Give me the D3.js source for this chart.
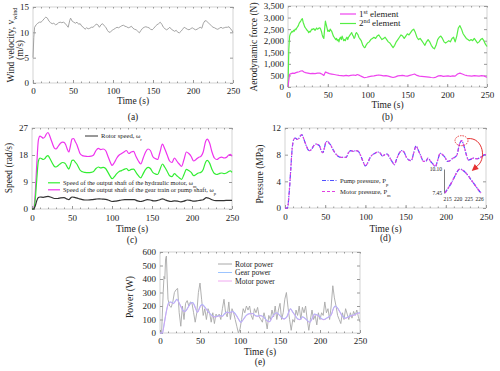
<!DOCTYPE html>
<html lang="en">
<head>
<meta charset="UTF-8">
<title>Wind turbine responses</title>
<script src="https://d3js.org/d3.v7.min.js"></script>
<style>
  body { margin: 0; background: #fff; }
  svg { display: block; font-family: 'Liberation Serif', 'Times New Roman', serif; }
  .tick text { fill: #222; }
  .tick line { stroke: #999; }
</style>
</head>
<body>
<svg id="chart" width="500" height="371"></svg>
<script>
// ---- data ----
const timeTicks = [0, 50, 100, 150, 200, 250];

const wind = [[0,5],[1,9],[2,11],[4,11.5],[6,11.8],[8,12],[10,12],[12,12.3],[14,12.7],[16,13],[18,12.8],[20,12.2],[22,11.9],[24,11.7],[26,11.8],[28,11.5],[30,11.6],[32,11.9],[34,12],[36,11.9],[38,12],[40,11.8],[42,11.4],[44,11],[46,12.4],[47,12.8],[49,12.2],[51,12],[53,11.8],[55,12],[57,11.6],[59,11.7],[61,11.2],[63,11],[65,10.6],[67,10.9],[69,10.7],[71,10.8],[73,11],[75,11],[77,11.3],[79,11.6],[81,11.5],[83,11],[85,11.5],[87,11.7],[89,11.3],[91,11],[93,10.4],[95,10],[97,10.1],[99,10.4],[101,10.6],[103,10.8],[105,11],[107,10.9],[109,11.1],[111,11.3],[113,11.4],[115,11.2],[117,11.1],[119,10.9],[121,11],[123,11.2],[125,10.8],[127,10.6],[129,10.5],[131,10.2],[133,9.9],[135,10.4],[137,10.8],[139,11],[141,11.1],[143,11],[145,10.9],[147,10.6],[149,10.5],[151,10.8],[153,11.2],[155,11.5],[157,11.7],[159,12],[161,11.6],[163,11],[165,10.7],[167,10.5],[169,10.7],[171,11],[173,10.6],[175,10.4],[177,10.2],[179,10.4],[181,10],[183,9.9],[185,10.2],[187,10.6],[189,11],[191,10.8],[193,10.6],[195,10.5],[197,10.7],[199,10.9],[201,10.7],[203,10.5],[205,10.6],[207,10.8],[209,11],[211,10.8],[213,11.8],[215,12.3],[217,12.2],[219,11.9],[221,11.6],[223,11.3],[225,11],[227,10.9],[229,10.7],[231,10.6],[233,10.8],[235,11],[237,10.8],[239,10.9],[241,11],[243,11],[245,11.1],[247,10.7],[249,10.3],[250,10]];

const force1 = [[0,0],[1,300],[2,550],[4,580],[6,600],[8,590],[10,620],[12,640],[14,660],[16,690],[18,700],[20,650],[22,620],[25,600],[28,580],[31,590],[34,580],[37,600],[40,600],[43,550],[45,500],[47,650],[49,620],[52,580],[55,560],[58,540],[61,520],[64,500],[67,490],[70,480],[73,500],[76,480],[79,500],[82,520],[85,500],[87,540],[90,500],[93,450],[96,400],[99,420],[102,450],[105,470],[108,480],[111,500],[114,520],[117,500],[120,480],[123,490],[126,470],[129,440],[132,410],[135,440],[138,480],[141,490],[144,500],[147,480],[150,470],[153,500],[156,530],[159,560],[162,500],[165,470],[168,460],[171,450],[174,440],[177,430],[180,410],[183,400],[186,430],[189,480],[192,490],[195,460],[198,470],[201,480],[204,460],[207,480],[210,470],[213,560],[216,600],[219,560],[222,520],[225,490],[228,480],[231,470],[234,490],[237,480],[240,470],[243,490],[246,480],[249,430],[250,420]];

const force2 = [[0,0],[0.5,800],[1,1600],[2,2200],[3,2300],[4,2350],[5,2400],[6,2380],[7,2450],[8,2420],[9,2500],[10,2480],[11,2550],[12,2600],[13,2650],[14,2750],[15,2800],[16,2850],[17,2920],[18,2950],[19,2800],[20,2700],[21,2600],[22,2550],[23,2500],[24,2450],[25,2420],[26,2350],[27,2400],[28,2380],[29,2450],[30,2500],[31,2480],[32,2520],[33,2500],[34,2450],[35,2500],[36,2550],[37,2500],[38,2520],[39,2550],[40,2560],[41,2500],[42,2400],[43,2250],[44,2150],[45,2100],[46,2500],[47,2850],[48,2700],[49,2550],[50,2400],[51,2450],[52,2400],[53,2500],[54,2450],[55,2400],[56,2300],[57,2200],[58,2150],[59,2100],[60,2050],[61,2100],[62,2000],[63,2050],[64,1950],[65,2100],[66,2150],[67,2050],[68,2200],[69,2100],[70,2000],[71,2050],[72,2000],[73,2100],[74,2150],[75,2050],[76,2150],[77,2200],[78,2250],[79,2300],[80,2350],[81,2250],[82,2200],[83,2100],[84,2150],[85,2300],[86,2350],[87,2300],[88,2250],[89,2150],[90,2100],[91,2050],[92,2000],[93,1900],[94,1800],[95,1750],[96,1700],[97,1720],[98,1800],[99,1850],[100,1900],[102,1950],[104,2050],[106,2100],[108,2150],[110,2100],[112,2200],[114,2250],[116,2150],[118,2050],[120,2100],[122,2150],[124,2050],[126,1950],[128,1900],[130,1800],[132,1700],[134,1800],[136,1950],[138,2050],[140,2150],[142,2250],[144,2200],[146,2100],[148,2200],[150,2300],[152,2250],[154,2350],[156,2450],[158,2500],[160,2350],[162,2150],[164,2050],[166,2100],[168,2000],[170,1900],[172,1800],[174,1950],[176,2050],[178,1950],[180,1800],[182,1700],[184,1650],[186,1800],[188,2050],[190,2150],[192,2200],[194,2100],[196,1950],[198,1900],[200,1950],[202,2000],[204,1950],[206,2100],[208,2150],[210,1950],[212,2200],[214,2550],[216,2650],[218,2500],[220,2300],[222,2200],[224,2100],[226,2050],[228,2000],[230,2050],[232,2000],[234,2100],[236,2000],[238,1900],[240,1950],[242,2050],[244,2100],[246,2000],[248,1850],[250,1750]];

const rotorSpeed = [[0,0],[2,0],[4,1],[6,2.8],[8,3.8],[10,4],[14,3.9],[18,4.1],[20,4.2],[24,3.9],[28,3.5],[32,3.5],[36,3.7],[40,3.8],[44,3.3],[46,3.1],[48,3.6],[50,4],[54,3.8],[58,3.5],[62,3.2],[66,3],[70,3],[75,3.1],[80,3.3],[84,3.4],[88,3.3],[92,3.2],[96,2.9],[100,2.5],[104,2.6],[108,2.8],[112,3],[116,3.1],[120,3.1],[124,3.1],[128,3.1],[132,2.7],[136,2.5],[140,2.8],[144,3.1],[148,3],[152,2.7],[156,2.8],[160,3.1],[163,3.4],[166,3.1],[170,2.7],[174,2.5],[178,2.7],[182,2.6],[186,2.4],[190,2.6],[194,3],[198,2.9],[202,2.6],[206,2.7],[210,2.9],[214,3.1],[218,3.8],[221,3.6],[225,3.1],[230,2.8],[235,2.8],[240,2.8],[245,2.9],[250,2.9]];

const motorSpeed = [[0,0],[2,0],[4,3],[6,10],[8,16],[10,17],[12,16.8],[14,16.5],[16,16.8],[18,17.5],[20,17.8],[22,17],[24,16],[26,15],[28,14.2],[30,14],[32,14.3],[34,14.8],[36,15.2],[38,15.5],[40,15.4],[42,15],[44,14],[46,13.3],[48,14.6],[50,16.2],[52,16.3],[54,15.6],[56,15],[58,14],[60,13],[63,12.4],[66,12.2],[70,12.1],[74,12.2],[77,12.5],[80,13.5],[83,14],[86,13.7],[89,13.9],[92,13.5],[95,12.2],[98,10.8],[100,10.1],[103,10.8],[106,11.8],[109,12.5],[112,12.8],[115,13.2],[118,13.5],[121,12.8],[124,13.2],[127,13.3],[130,12.2],[133,11.1],[136,10.4],[139,11.8],[142,13.2],[145,13.9],[148,13.5],[151,12.2],[154,11.7],[157,11.5],[160,13.2],[163,15],[166,13.9],[169,12.5],[172,11.1],[175,10.8],[178,11.8],[181,11.1],[184,10.4],[187,9.9],[190,11.5],[193,13.2],[196,12.8],[199,12.2],[202,11.1],[205,11.5],[208,12],[211,12.2],[214,13.2],[217,15.6],[219,16.2],[222,15.3],[225,13.2],[228,11.8],[231,11.5],[234,11.8],[237,12],[240,11.8],[243,12],[246,12.5],[248,12.7],[250,12.2]];

const pumpSpeed = [[0,0],[2,0],[4,5],[6,15],[8,23],[10,24.3],[12,24],[14,23.6],[16,24],[18,25],[20,25.5],[22,24.5],[24,23],[26,21.5],[28,20.3],[30,20],[32,20.6],[34,21.4],[36,22],[38,22.3],[40,22.2],[42,21.5],[44,20],[46,19],[48,21],[50,23.3],[52,23.5],[54,22.5],[56,21.5],[58,20],[60,18.5],[63,17.8],[66,17.6],[70,17.5],[74,17.6],[77,18],[80,19.5],[83,20.2],[86,19.8],[89,20],[92,19.5],[95,17.5],[98,15.5],[100,14.5],[103,15.5],[106,17],[109,18],[112,18.5],[115,19],[118,19.5],[121,18.5],[124,19],[127,19.2],[130,17.5],[133,16],[136,15],[139,17],[142,19],[145,20],[148,19.5],[151,17.5],[154,16.8],[157,16.5],[160,19],[163,21.6],[166,20],[169,18],[172,16],[175,15.5],[178,17],[181,16],[184,15],[187,14.2],[190,16.5],[193,19],[196,18.5],[199,17.5],[202,16],[205,16.5],[208,17.2],[211,17.5],[214,19],[217,22.5],[219,23.3],[222,22],[225,19],[228,17],[231,16.5],[234,17],[237,17.3],[240,17],[243,17.2],[246,18],[248,18.2],[250,17.6]];

const pressure = [[0,0],[3,0],[5,2],[7,5.5],[9,9],[11,10.3],[13,10.5],[15,10.3],[17,10.4],[19,10.8],[21,11],[23,10.5],[25,9.8],[27,9.2],[29,8.7],[31,8.6],[33,8.8],[35,9.2],[37,9.5],[39,9.6],[41,9.5],[43,9.3],[45,8.6],[47,8.3],[49,9],[51,9.9],[53,10],[55,9.7],[57,9.4],[59,8.9],[61,8.5],[64,8],[67,7.7],[70,7.6],[73,7.6],[76,7.6],[79,8.3],[82,8.6],[85,8.5],[88,8.6],[91,8.5],[94,7.9],[97,7],[100,6.3],[103,6.8],[106,7.6],[109,8],[112,8.2],[115,8.4],[118,8.3],[121,7.8],[124,8],[127,8.1],[130,7.6],[133,7],[136,6.5],[139,7.4],[142,8.2],[145,8.6],[148,8.4],[151,7.6],[154,7.2],[157,7.1],[160,8.2],[163,9.3],[166,8.6],[169,7.8],[172,7],[175,7],[178,7.5],[181,7],[184,6.6],[187,6.2],[190,7.2],[193,8.2],[196,8],[199,7.6],[202,7],[205,7.1],[208,7.4],[211,7.6],[214,8],[217,9.6],[220,10.1],[222,9.5],[224,8.7],[226,7.8],[228,7.2],[231,7.3],[234,7.5],[237,7.4],[240,7.4],[243,7.6],[246,7.8],[248,8],[250,8]];

// zoomed view of the pressure peak
const insetPressure = [[215,7.45],[216,8.0],[217,8.6],[218,9.3],[219,9.95],[219.5,10.1],[220,10.05],[221,9.8],[222,9.4],[223,8.9],[224,8.4],[225,7.9],[226,7.45]];
const insetXLabels = ["215", "220", "225", "226"];
const insetYLabels = [7.45, 10.10];

const rotorPower = [[0,0],[2,0],[4,300],[5,420],[6,400],[7,550],[8,570],[9,400],[10,250],[12,200],[14,190],[16,230],[18,300],[20,320],[22,330],[24,150],[26,50],[28,200],[30,100],[32,220],[34,240],[36,200],[38,230],[40,220],[42,150],[44,80],[46,150],[48,300],[50,370],[52,250],[54,130],[56,180],[58,100],[60,180],[62,150],[64,80],[66,150],[68,70],[70,140],[72,120],[74,140],[76,100],[78,180],[80,250],[82,150],[84,120],[86,230],[88,100],[90,180],[92,150],[94,100],[96,50],[98,0],[100,30],[102,100],[104,180],[106,150],[108,200],[110,170],[112,200],[114,130],[116,100],[118,180],[120,150],[122,190],[124,120],[126,100],[128,80],[130,150],[132,100],[134,30],[136,130],[138,100],[140,170],[142,120],[144,200],[146,100],[148,170],[150,220],[152,100],[154,150],[156,250],[158,300],[160,190],[162,100],[164,20],[166,100],[168,80],[170,170],[172,130],[174,200],[176,100],[178,190],[180,150],[182,200],[184,100],[186,20],[188,100],[190,170],[192,100],[194,130],[196,60],[198,150],[200,100],[202,150],[204,130],[206,230],[208,150],[210,180],[212,100],[214,200],[216,350],[218,260],[220,200],[222,130],[224,100],[226,70],[228,150],[230,100],[232,180],[234,140],[236,100],[238,150],[240,110],[242,160],[244,130],[246,170],[248,120],[250,80]];

const gearPower = [[0,0],[3,0],[5,60],[7,130],[9,190],[11,225],[13,230],[15,225],[17,220],[19,235],[21,250],[23,235],[25,210],[27,185],[29,165],[31,160],[33,170],[35,190],[37,210],[39,225],[41,225],[43,205],[45,175],[47,155],[49,180],[51,205],[53,210],[55,200],[57,185],[60,160],[63,140],[66,125],[69,120],[72,125],[75,130],[78,125],[81,145],[84,155],[87,150],[90,160],[93,150],[96,125],[99,95],[101,80],[104,100],[107,125],[110,140],[113,145],[116,145],[119,130],[122,125],[125,130],[128,125],[131,110],[134,90],[137,85],[140,115],[143,140],[146,150],[149,135],[152,115],[155,105],[158,115],[161,155],[163,180],[166,155],[169,130],[172,105],[175,100],[178,120],[181,110],[184,95],[187,80],[190,105],[193,140],[196,135],[199,125],[202,105],[205,100],[208,110],[211,120],[214,135],[217,185],[219,200],[222,185],[225,155],[228,125],[231,110],[234,115],[237,125],[240,130],[243,135],[246,145],[250,150]];
const motorPower = [[0,0],[3,0],[5,58],[7,128],[9,188],[11,223],[13,228],[15,223],[17,218],[19,233],[21,248],[23,233],[25,208],[27,183],[29,163],[31,158],[33,168],[35,188],[37,208],[39,223],[41,223],[43,203],[45,173],[47,153],[49,178],[51,203],[53,208],[55,198],[57,183],[60,158],[63,138],[66,123],[69,118],[72,123],[75,128],[78,123],[81,143],[84,153],[87,148],[90,158],[93,148],[96,123],[99,93],[101,78],[104,98],[107,123],[110,138],[113,143],[116,143],[119,128],[122,123],[125,128],[128,123],[131,108],[134,88],[137,83],[140,113],[143,138],[146,148],[149,133],[152,113],[155,103],[158,113],[161,153],[163,178],[166,153],[169,128],[172,103],[175,98],[178,118],[181,108],[184,93],[187,78],[190,103],[193,138],[196,133],[199,123],[202,103],[205,98],[208,108],[211,118],[214,133],[217,183],[219,198],[222,183],[225,153],[228,123],[231,108],[234,113],[237,123],[240,128],[243,133],[246,143],[250,148]];

// ---- drawing ----
const svg = d3.select("#chart");
const minorX = d3.range(0, 251, 10);
const TICK_FS = 9;

function plainAxis(s) {
  s.attr("font-family", null).attr("font-size", null);
  s.select(".domain").remove();
}

function panel(o) {
  const x = d3.scaleLinear().domain([0, 250]).range([o.left, o.right]);
  const y = d3.scaleLinear().domain([0, o.ymax]).range([o.bottom, o.top]);
  const g = svg.append("g");

  g.append("rect")
    .attr("x", o.left).attr("y", o.top)
    .attr("width", o.right - o.left).attr("height", o.bottom - o.top)
    .attr("fill", "none").attr("stroke", "#c8c8c8").attr("stroke-width", 0.8);

  // minor ticks along top and bottom frame
  g.append("g").attr("transform", `translate(0,${o.top})`)
    .call(d3.axisTop(x).tickValues(minorX).tickSize(-1.5).tickFormat(""))
    .call(plainAxis);
  g.append("g").attr("transform", `translate(0,${o.bottom})`)
    .call(d3.axisBottom(x).tickValues(minorX).tickSize(-1.5).tickFormat(""))
    .call(plainAxis);

  g.append("g").attr("transform", `translate(0,${o.bottom})`)
    .call(d3.axisBottom(x).tickValues(timeTicks).tickSize(-3).tickPadding(o.tickPad))
    .call(plainAxis)
    .call(s => s.selectAll("text").style("font-size", TICK_FS + "px"));

  g.append("g").attr("transform", `translate(${o.left},0)`)
    .call(d3.axisLeft(y).tickValues(o.yticks).tickSize(-3).tickPadding(4))
    .call(plainAxis)
    .call(s => s.selectAll("text").style("font-size", TICK_FS + "px"));
  g.append("g").attr("transform", `translate(${o.right},0)`)
    .call(d3.axisRight(y).tickValues(o.yticks).tickSize(-3).tickFormat(""))
    .call(plainAxis);

  const cx = (o.left + o.right) / 2;
  g.append("text").attr("x", cx).attr("y", o.bottom + o.timeGap)
    .attr("text-anchor", "middle").style("font-size", "9.5px").attr("fill", "#222")
    .text("Time (s)");
  g.append("text").attr("x", cx).attr("y", o.bottom + o.capGap)
    .attr("text-anchor", "middle").style("font-size", "9.5px").attr("fill", "#222")
    .text(o.cap);
  return { x, y, g };
}

function drawLine(p, data, color, width, dash, curve) {
  const line = d3.line().x(d => p.x(d[0])).y(d => p.y(d[1])).curve(curve || d3.curveLinear);
  p.g.append("path").datum(data)
    .attr("d", line)
    .attr("fill", "none").attr("stroke", color)
    .attr("stroke-width", width)
    .attr("stroke-dasharray", dash || null)
    .attr("stroke-linejoin", "round");
}

function addParts(t, parts, size, k) {
  parts.forEach(p => {
    const ts = t.append("tspan").text(p.t);
    if (p.sub) ts.attr("baseline-shift", "sub").style("font-size", (size * k) + "px");
    if (p.sup) ts.attr("baseline-shift", "super").style("font-size", (size * k) + "px");
  });
}

function yLabel(x, y, parts, size) {
  const t = svg.append("text")
    .attr("transform", `translate(${x},${y}) rotate(-90)`)
    .attr("text-anchor", "middle").style("font-size", size + "px").attr("fill", "#222");
  addParts(t, parts, size, 0.65);
}

function legendItem(x1, x2, y, color, width, dash, parts, size) {
  svg.append("line").attr("x1", x1).attr("x2", x2).attr("y1", y).attr("y2", y)
    .attr("stroke", color).attr("stroke-width", width).attr("stroke-dasharray", dash || null);
  const t = svg.append("text").attr("x", x2 + 3).attr("y", y + size * 0.33)
    .style("font-size", size + "px").attr("fill", "#222");
  addParts(t, parts, size, 0.7);
}

// (a) wind velocity
const pa = panel({ left: 33, right: 233, top: 7, bottom: 83, ymax: 15, yticks: [0, 5, 10, 15],
  tickPad: 5, timeGap: 21, capGap: 37, cap: "(a)" });
drawLine(pa, wind, "#9a9a9a", 0.9);
yLabel(14, 45, [{ t: "Wind velocity, v" }, { t: "wind", sub: true }], 9.5);
yLabel(23, 50, [{ t: "(m/s)" }], 9.5);

// (b) aerodynamic force
const pb = panel({ left: 288, right: 487, top: 6, bottom: 87, ymax: 3500, yticks: d3.range(0, 3501, 500),
  tickPad: 5, timeGap: 21, capGap: 33, cap: "(b)" });
drawLine(pb, force2, "#55ee44", 1.2);
drawLine(pb, force1, "#ee44ee", 1.2);
yLabel(257, 47, [{ t: "Aerodynamic force (N)" }], 9.5);
legendItem(340, 356, 14, "#ee44ee", 1.2, null, [{ t: "1" }, { t: "st", sup: true }, { t: " element" }], 9);
legendItem(340, 356, 23.5, "#55ee44", 1.2, null, [{ t: "2" }, { t: "nd", sup: true }, { t: " element" }], 9);

// (c) speeds
const pc = panel({ left: 32, right: 232, top: 128, bottom: 209, ymax: 27, yticks: [0, 9, 18, 27],
  tickPad: 6, timeGap: 23, capGap: 34, cap: "(c)" });
drawLine(pc, pumpSpeed, "#ee33ee", 1.2, null, d3.curveMonotoneX);
drawLine(pc, motorSpeed, "#33ee33", 1.2, null, d3.curveMonotoneX);
drawLine(pc, rotorSpeed, "#333", 1.2, null, d3.curveMonotoneX);
yLabel(12, 168, [{ t: "Speed (rad/s)" }], 9.5);
legendItem(85, 98, 136, "#333", 1, null, [{ t: "Rotor speed, ω" }, { t: "r", sub: true }], 6.6);
legendItem(48, 60, 182.8, "#33ee33", 1.2, null, [{ t: "Speed of the output shaft of the hydraulic motor, ω" }, { t: "m", sub: true }], 6.4);
legendItem(48, 60, 189.8, "#ee33ee", 1.2, null, [{ t: "Speed of the output shaft of the gear train or pump shaft, ω" }, { t: "p", sub: true }], 6.4);

// (d) pressure
const pd = panel({ left: 285, right: 486, top: 128, bottom: 208, ymax: 12, yticks: [0, 4, 8, 12],
  tickPad: 6, timeGap: 24, capGap: 33, cap: "(d)" });
drawLine(pd, pressure, "#5050ff", 1.2, "4,1.5,1,1.5", d3.curveMonotoneX);
drawLine(pd, pressure, "#e040e0", 1.1, "3,2", d3.curveMonotoneX);
yLabel(263, 174, [{ t: "Pressure (MPa)" }], 9.5);
legendItem(322, 337, 180.5, "#5050ff", 1, "4,1.5,1,1.5", [{ t: "Pump pressure, P" }, { t: "p", sub: true }], 6.6);
legendItem(322, 337, 191.5, "#e040e0", 1, "3,2", [{ t: "Motor pressure, P" }, { t: "m", sub: true }], 6.6);

// highlight on the peak and arrow to the inset
const peak = insetPressure.find(d => d[1] === 10.1);
const pcx = pd.x(peak[0]), pcy = pd.y(peak[1]);
svg.append("ellipse").attr("cx", pcx).attr("cy", pcy).attr("rx", 6.5).attr("ry", 5)
  .attr("fill", "none").attr("stroke", "#e53030").attr("stroke-width", 0.9).attr("stroke-dasharray", "1.5,1");

// inset
const ix = d3.scaleLinear().domain([215, 226]).range([445, 481]);
const iy = d3.scaleLinear().domain([insetYLabels[0], insetYLabels[1]]).range([193, 169]);
const ixLab = d3.scalePoint().domain(insetXLabels).range([447, 479]);
svg.append("g").attr("transform", "translate(444,0)")
  .call(d3.axisLeft(iy).tickValues(insetYLabels).tickSize(0).tickPadding(2).tickFormat(d3.format(".2f")))
  .call(s => s.attr("font-family", null).attr("font-size", null))
  .call(s => s.select(".domain").attr("stroke", "#444").attr("stroke-width", 0.7))
  .call(s => s.selectAll("text").style("font-size", "5.5px"));
svg.append("g").attr("transform", "translate(0,196)")
  .call(d3.axisBottom(ixLab).tickSize(0).tickPadding(1))
  .call(plainAxis)
  .call(s => s.selectAll("text").style("font-size", "5.5px"));
const iline = d3.line().x(d => ix(d[0])).y(d => iy(d[1])).curve(d3.curveMonotoneX);
svg.append("path").datum(insetPressure).attr("d", iline)
  .attr("fill", "none").attr("stroke", "#5050ff").attr("stroke-width", 1.3).attr("stroke-dasharray", "4,1.5,1,1.5");
svg.append("path").datum(insetPressure).attr("d", iline)
  .attr("fill", "none").attr("stroke", "#e040e0").attr("stroke-width", 1.2).attr("stroke-dasharray", "3,2");

// curved red arrow
const ax0 = pcx + 6, ay0 = pcy - 2;
const ax1 = ix(225) - 4, ay1 = iy(10.1) + 1;
svg.append("path")
  .attr("d", `M${ax0},${ay0} C${ax0 + 16},${ay0 - 2} ${ax0 + 20},${ay0 + 22} ${ax1 + 2},${ay1 - 3}`)
  .attr("fill", "none").attr("stroke", "#e53030").attr("stroke-width", 1);
svg.append("path")
  .attr("d", `M${ax1 - 2},${ay1 + 1} L${ax1 + 5},${ay1 - 1} L${ax1 + 1},${ay1 - 6} Z`)
  .attr("fill", "#e53030");

// (e) power
const pe = panel({ left: 160, right: 360, top: 252, bottom: 333, ymax: 600, yticks: d3.range(0, 601, 100),
  tickPad: 5, timeGap: 22, capGap: 32, cap: "(e)" });
drawLine(pe, rotorPower, "#a8a8a8", 0.9);
drawLine(pe, gearPower, "#9cc4ff", 1.1, null, d3.curveMonotoneX);
drawLine(pe, motorPower, "#d9a0ee", 0.9, null, d3.curveMonotoneX);
yLabel(133, 297, [{ t: "Power (W)" }], 9.5);
legendItem(218, 232, 264, "#a8a8a8", 1, null, [{ t: "Rotor power" }], 7.6);
legendItem(218, 232, 272.5, "#9cc4ff", 1, null, [{ t: "Gear power" }], 7.6);
legendItem(218, 232, 281, "#f0a8f0", 1, null, [{ t: "Motor power" }], 7.6);
</script>
</body>
</html>
